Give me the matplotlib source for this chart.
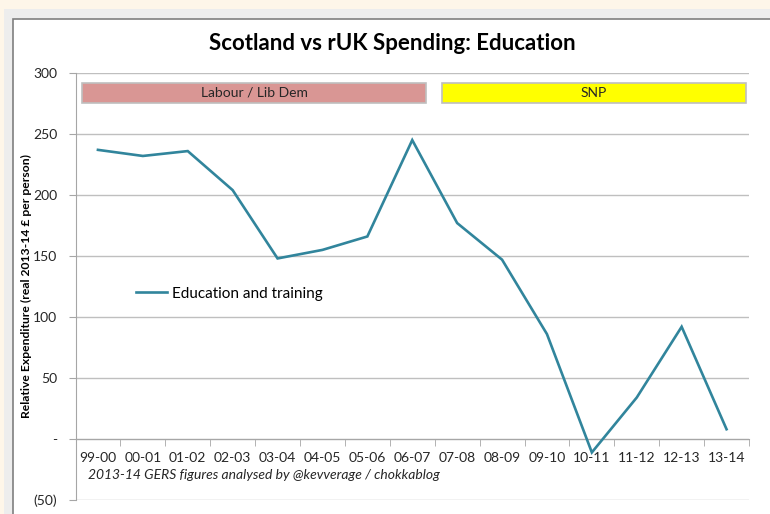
import numpy as np
import matplotlib.pyplot as plt
from matplotlib.patches import Rectangle
from matplotlib.ticker import FuncFormatter

plt.rcParams['font.family'] = ['Lato', 'DejaVu Sans']

# Relative spending, Scotland vs rest of UK (real 2013-14 £ per person)
years = ["99-00", "00-01", "01-02", "02-03", "03-04", "04-05", "05-06", "06-07",
         "07-08", "08-09", "09-10", "10-11", "11-12", "12-13", "13-14"]
education = [237, 232, 236, 204, 148, 155, 166, 245,
             177, 147, 86, -11, 34, 92, 8]

# Governing party periods: (label, first year index, last year index, colour)
periods = [("Labour / Lib Dem", 0, 7, "#D99694"),
           ("SNP", 8, 14, "#FFFF00")]

fig = plt.figure(figsize=(7.7, 5.14), dpi=100)
fig.patch.set_facecolor("#FEF6E9")

# chart area frame
W, H = 770, 514
fig.patches.append(Rectangle((4 / W, 0), 1, 1 - 9 / H, transform=fig.transFigure,
                             facecolor="#EDEDED", edgecolor="none", zorder=-2))
fig.patches.append(Rectangle((13 / W, -0.1), 1, 1.1 - 19 / H, transform=fig.transFigure,
                             facecolor="white", edgecolor="#7F7F7F", linewidth=1.2, zorder=-1))

ax = fig.add_axes([75.5 / W, 1 - 500 / H, (749 - 75.5) / W, (500 - 73) / H])
ax.set_facecolor("none")

x = np.arange(len(years))
ax.plot(x, education, color="#31859C", linewidth=1.9, label="Education and training",
        solid_joinstyle="miter", zorder=3)

ax.set_xlim(-0.5, len(years) - 0.5)
ax.set_ylim(-50, 300)
ax.set_yticks(np.arange(-50, 301, 50))


def money(v, pos):
    if v == 0:
        return "-"
    if v < 0:
        return "({:.0f})".format(-v)
    return "{:.0f}".format(v)


ax.yaxis.set_major_formatter(FuncFormatter(money))
ax.grid(axis="y", color="#BFBFBF", linewidth=1)
ax.set_axisbelow(True)

for s in ["top", "right"]:
    ax.spines[s].set_visible(False)
ax.spines["bottom"].set_position(("data", 0))
ax.spines["bottom"].set_color("#A6A6A6")
ax.spines["left"].set_color("#A6A6A6")

ax.set_xticks(x)
ax.set_xticklabels(years)
ax.set_xticks(np.arange(-0.5, len(years), 1), minor=True)
ax.tick_params(axis="x", which="major", length=0, pad=9, labelsize=10)
ax.tick_params(axis="x", which="minor", length=5, color="#A6A6A6")
ax.tick_params(axis="y", length=5, color="#A6A6A6", labelsize=10, pad=8)
for lab in ax.get_xticklabels() + ax.get_yticklabels():
    lab.set_color("#262626")

ax.set_ylabel("Relative Expenditure (real 2013-14 £ per person)", fontsize=8.7,
              fontweight="bold")
ax.yaxis.set_label_coords(-0.064, 0.5)

fig.text(392 / W, 1 - 44 / H, "Scotland vs rUK Spending: Education", ha="center",
         va="center", fontsize=16, fontweight="bold")

# party bands across the top
for label, i0, i1, col in periods:
    x0 = i0 - 0.5 + (0.15 if i0 == 0 else 0.16)
    x1 = i1 + 0.5 - (0.06 if i1 == len(years) - 1 else 0.19)
    ax.add_patch(Rectangle((x0, 275.5), x1 - x0, 16.5, facecolor=col,
                           edgecolor="#BFBFBF", linewidth=1.2, zorder=2))
    ax.text((x0 + x1) / 2, 283.7, label, ha="center", va="center", fontsize=10,
            color="#262626", zorder=3)

ax.legend(loc="upper left", bbox_to_anchor=(0.07, 0.532), frameon=False,
          fontsize=11, handlelength=2.0, handletextpad=0.3)

ax.text(-0.22, -29.5, "2013-14 GERS figures analysed by @kevverage / chokkablog",
        fontsize=10, style="italic", color="#262626", va="center")

fig.savefig("out.png", dpi=100, facecolor=fig.get_facecolor())
